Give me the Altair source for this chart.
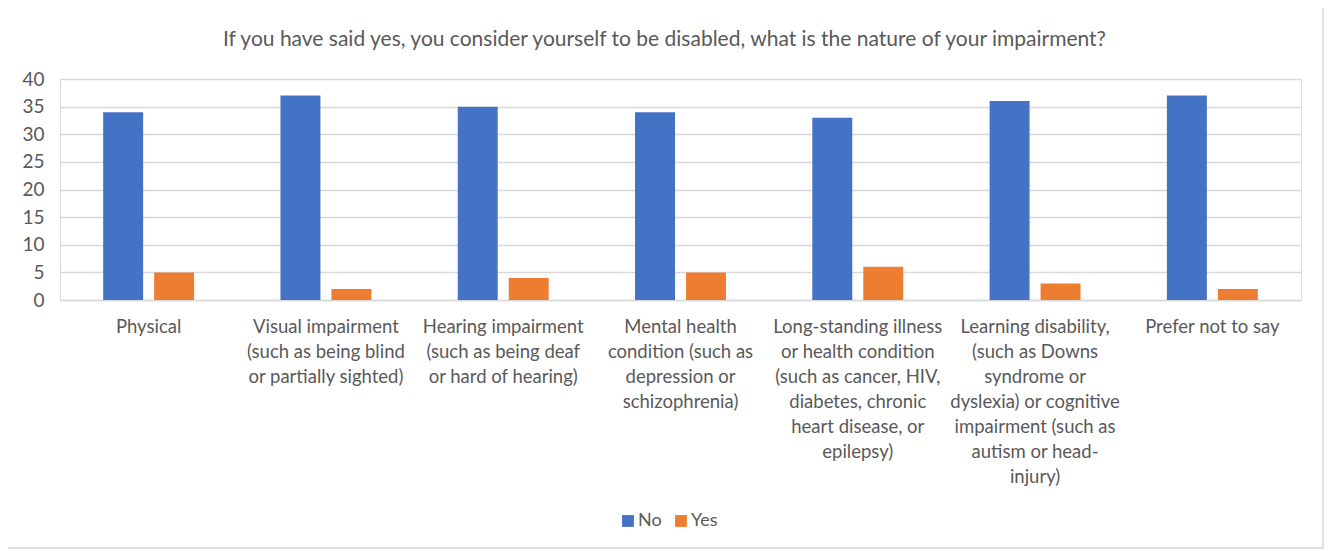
import altair as alt
import pandas as pd

title_text = "If you have said yes, you consider yourself to be disabled, what is the nature of your impairment?"
categories = [
    "Physical",
    "Visual impairment|(such as being blind|or partially sighted)",
    "Hearing impairment|(such as being deaf|or hard of hearing)",
    "Mental health|condition (such as|depression or|schizophrenia)",
    "Long-standing illness|or health condition|(such as cancer, HIV,|diabetes, chronic|heart disease, or|epilepsy)",
    "Learning disability,|(such as Downs|syndrome or|dyslexia) or cognitive|impairment (such as|autism or head-|injury)",
    "Prefer not to say",
]
no_values = [34, 37, 35, 34, 33, 36, 37]
yes_values = [5, 2, 4, 5, 6, 3, 2]
series = ["No", "Yes"]
colors = ["#4472C4", "#ED7D31"]
y_ticks = [0, 5, 10, 15, 20, 25, 30, 35, 40]

rows = []
for c, n, y in zip(categories, no_values, yes_values):
    rows.append({"category": c, "series": "No", "value": n})
    rows.append({"category": c, "series": "Yes", "value": y})
df = pd.DataFrame(rows)

FONT = "Lato"
GREY = "#595959"

bars = alt.Chart(df).mark_bar().encode(
    x=alt.X("category:N", sort=categories, title=None,
            scale=alt.Scale(paddingInner=0.487, paddingOuter=0.2435),
            axis=alt.Axis(labelExpr="split(datum.label, '|')", labelAngle=0,
                          labelFontSize=18.5, labelColor=GREY, labelFont=FONT,
                          labelLineHeight=25, labelLimit=400, labelPadding=17,
                          ticks=False, domainColor="#D9D9D9", domainWidth=1.3,
                          labelBaseline="top")),
    xOffset=alt.XOffset("series:N", sort=series, scale=alt.Scale(paddingInner=0.216)),
    y=alt.Y("value:Q", title=None,
            scale=alt.Scale(domain=[0, 40], nice=False),
            axis=alt.Axis(values=y_ticks, domain=False, ticks=False,
                          labelFontSize=19, labelColor=GREY, labelFont=FONT,
                          labelPadding=16, gridColor="#D9D9D9", gridWidth=1.3)),
    color=alt.Color("series:N", sort=series,
                    scale=alt.Scale(domain=series, range=colors),
                    legend=alt.Legend(title=None, orient="none", direction="horizontal",
                                      legendX=559, legendY=433, symbolType="square",
                                      symbolSize=140, symbolStrokeWidth=0,
                                      labelFontSize=18, labelColor=GREY, labelFont=FONT,
                                      columnPadding=10, labelOffset=1)),
)

frame = alt.Chart(pd.DataFrame({"k": [0]})).mark_rect(
    fill=None, stroke="#D9D9D9", strokeWidth=1.5
).encode(
    x=alt.value(-54), x2=alt.value(1263), y=alt.value(-72), y2=alt.value(469)
)

title = alt.Chart(pd.DataFrame({"t": [title_text]})).mark_text(
    font=FONT, fontSize=21, color=GREY, align="center", baseline="middle"
).encode(text="t:N", x=alt.value(604.5), y=alt.value(-39))

chart = alt.layer(frame, title, bars).properties(
    width=1241, height=221,
    padding={"left": 52, "top": 71, "right": 24, "bottom": 249},
    autosize=alt.AutoSizeParams(type="none"),
).configure_view(stroke=None).configure(background="white")

chart.save("out.html", embed_options={"renderer": "svg", "actions": False})
